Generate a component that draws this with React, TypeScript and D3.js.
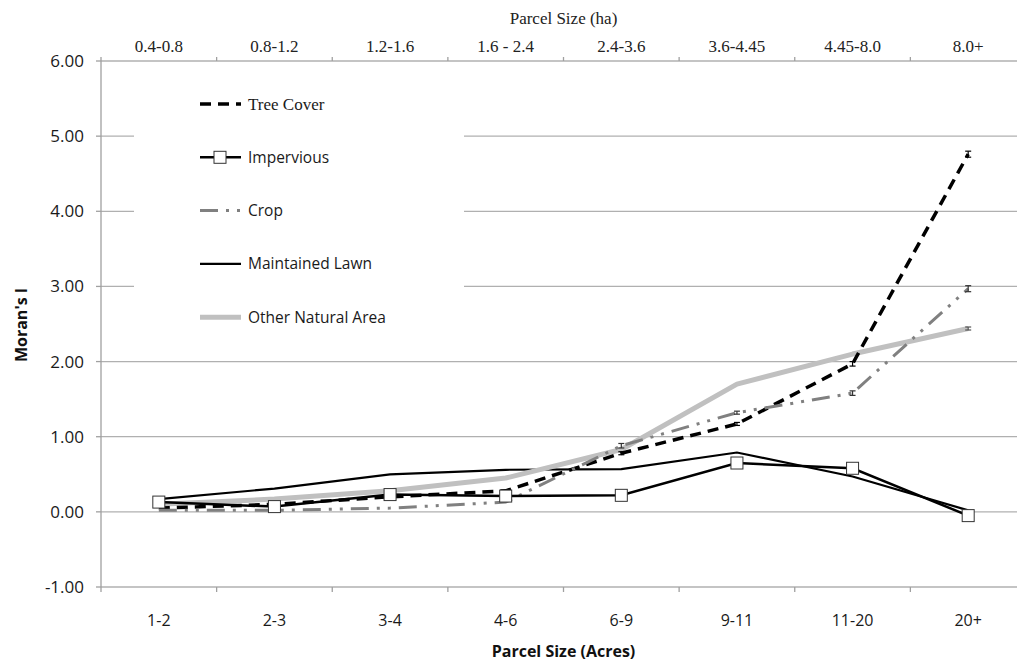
import React from "react";
import * as d3 from "d3";

const acreCategories = ["1-2", "2-3", "3-4", "4-6", "6-9", "9-11", "11-20", "20+"];
const haCategories = ["0.4-0.8", "0.8-1.2", "1.2-1.6", "1.6 - 2.4", "2.4-3.6", "3.6-4.45", "4.45-8.0", "8.0+"];
const yTicks = [-1, 0, 1, 2, 3, 4, 5, 6];

const treeCover = [0.05, 0.1, 0.2, 0.28, 0.78, 1.17, 1.97, 4.76];
const treeCoverErr = [0, 0, 0, 0, 0.02, 0.02, 0.03, 0.04];
const impervious = [0.13, 0.07, 0.23, 0.21, 0.22, 0.65, 0.58, -0.05];
const crop = [0.02, 0.02, 0.05, 0.13, 0.88, 1.32, 1.58, 2.97];
const cropErr = [0, 0, 0, 0, 0.03, 0.02, 0.03, 0.04];
const maintainedLawn = [0.17, 0.31, 0.5, 0.56, 0.57, 0.79, 0.47, 0.02];
const otherNatural = [0.1, 0.17, 0.28, 0.45, 0.83, 1.7, 2.1, 2.44];
const otherNaturalErr = [0, 0, 0, 0, 0, 0, 0, 0.02];

const W = 1017;
const H = 664;
const plotLeft = 101;
const plotRight = 1026;
const plotTop = 61;
const plotBottom = 587;

const sans = "'Open Sans', 'Noto Sans', sans-serif";
const serif = "'Liberation Serif', 'DejaVu Serif', serif";

export default function App() {
  const x = d3.scaleBand<string>().domain(acreCategories).range([plotLeft, plotRight]);
  const xTop = d3.scaleBand<string>().domain(haCategories).range([plotLeft, plotRight]);
  const y = d3.scaleLinear().domain([-1, 6]).range([plotBottom, plotTop]);
  const cx = (i: number) => (x(acreCategories[i]) as number) + x.bandwidth() / 2;

  const line = d3
    .line<number>()
    .x((_, i) => cx(i))
    .y((d) => y(d));

  const errBars = (vals: number[], errs: number[], color: string) =>
    vals.map((v, i) =>
      errs[i] > 0 ? (
        <g key={i} stroke={color} strokeWidth={1.2}>
          <line x1={cx(i)} x2={cx(i)} y1={y(v + errs[i])} y2={y(v - errs[i])} />
          <line x1={cx(i) - 3} x2={cx(i) + 3} y1={y(v + errs[i])} y2={y(v + errs[i])} />
          <line x1={cx(i) - 3} x2={cx(i) + 3} y1={y(v - errs[i])} y2={y(v - errs[i])} />
        </g>
      ) : null
    );

  const boundaries = d3.range(acreCategories.length + 1).map((i) => plotLeft + i * x.step());

  const treeDash = "11,7";
  const cropDash = "18,8,3,8,3,8";

  const legendItems = [
    { label: "Tree Cover", color: "#000", width: 3.5, dash: treeDash, marker: false, font: serif, size: 17 },
    { label: "Impervious", color: "#000", width: 2.5, dash: "", marker: true, font: sans, size: 15.5 },
    { label: "Crop", color: "#808080", width: 3, dash: cropDash, marker: false, font: sans, size: 15.5 },
    { label: "Maintained Lawn", color: "#000", width: 2.2, dash: "", marker: false, font: sans, size: 15.5 },
    { label: "Other Natural Area", color: "#c0c0c0", width: 5, dash: "", marker: false, font: sans, size: 15.5 },
  ];

  return (
    <svg
      width={W}
      height={H}
      style={{ position: "absolute", left: 0, top: 0, background: "#fff" }}
      xmlns="http://www.w3.org/2000/svg"
    >
      <rect x={0} y={0} width={W} height={H} fill="#fff" />
      {/* gridlines */}
      {yTicks.map((t) => (
        <line key={t} x1={plotLeft} x2={W} y1={y(t)} y2={y(t)} stroke="#b0b0b0" strokeWidth={1.3} />
      ))}
      {/* y axis */}
      <line x1={plotLeft} x2={plotLeft} y1={plotTop} y2={plotBottom} stroke="#a0a0a0" strokeWidth={1.3} />
      {yTicks.map((t) => (
        <g key={t}>
          <line x1={plotLeft - 5} x2={plotLeft} y1={y(t)} y2={y(t)} stroke="#a0a0a0" strokeWidth={1.3} />
          <text x={84} y={y(t)} dy="0.35em" textAnchor="end" fontFamily={sans} fontSize={17} fill="#1a1a1a">
            {t.toFixed(2)}
          </text>
        </g>
      ))}
      {/* bottom axis ticks */}
      {boundaries.map((b, i) => (
        <line key={"b" + i} x1={b} x2={b} y1={plotBottom} y2={plotBottom + 5} stroke="#a0a0a0" strokeWidth={1.3} />
      ))}
      {acreCategories.map((c) => (
        <text
          key={c}
          x={(x(c) as number) + x.bandwidth() / 2}
          y={620}
          dy="0.35em"
          textAnchor="middle"
          fontFamily={sans}
          fontSize={16}
          fill="#1a1a1a"
        >
          {c}
        </text>
      ))}
      <text x={(plotLeft + plotRight) / 2} y={651} dy="0.35em" textAnchor="middle" fontFamily={sans} fontSize={16} fontWeight="bold" fill="#111">
        Parcel Size (Acres)
      </text>
      {/* top axis ticks */}
      {boundaries.map((b, i) => (
        <line key={"t" + i} x1={b} x2={b} y1={plotTop - 4} y2={plotTop} stroke="#a0a0a0" strokeWidth={1.3} />
      ))}
      {haCategories.map((c) => (
        <text
          key={c}
          x={(xTop(c) as number) + xTop.bandwidth() / 2}
          y={46}
          dy="0.35em"
          textAnchor="middle"
          fontFamily={serif}
          fontSize={17}
          fill="#222"
        >
          {c}
        </text>
      ))}
      <text x={(plotLeft + plotRight) / 2} y={18} dy="0.35em" textAnchor="middle" fontFamily={serif} fontSize={17} fill="#222">
        Parcel Size (ha)
      </text>
      {/* y title */}
      <text
        transform={`translate(21, 325) rotate(-90)`}
        textAnchor="middle"
        dy="0.35em"
        fontFamily={sans}
        fontSize={16}
        fontWeight="bold"
        fill="#111"
      >
        Moran's I
      </text>

      {/* legend box */}
      <rect x={134} y={70} width={330} height={272} fill="#fff" />
      {legendItems.map((it, i) => {
        const ly = 104 + i * 53.3;
        return (
          <g key={it.label}>
            <line
              x1={200}
              x2={241}
              y1={ly}
              y2={ly}
              stroke={it.color}
              strokeWidth={it.width}
              strokeDasharray={it.dash || undefined}
            />
            {it.marker && <rect x={214} y={ly - 6} width={12} height={12} fill="#fff" stroke="#333" strokeWidth={1} />}
            <text x={248} y={ly} dy="0.35em" fontFamily={it.font} fontSize={it.size} fill="#1a1a1a">
              {it.label}
            </text>
          </g>
        );
      })}

      {/* series */}
      <path d={line(maintainedLawn) || ""} fill="none" stroke="#000" strokeWidth={2.2} />
      <path d={line(otherNatural) || ""} fill="none" stroke="#c0c0c0" strokeWidth={5} strokeLinejoin="round" />
      {errBars(otherNatural, otherNaturalErr, "#555")}
      <path d={line(treeCover) || ""} fill="none" stroke="#000" strokeWidth={3.5} strokeDasharray={treeDash} />
      {errBars(treeCover, treeCoverErr, "#000")}
      <path d={line(crop) || ""} fill="none" stroke="#808080" strokeWidth={3} strokeDasharray={cropDash} />
      {errBars(crop, cropErr, "#333")}
      <path d={line(impervious) || ""} fill="none" stroke="#000" strokeWidth={2.5} />
      {impervious.map((v, i) => (
        <rect key={i} x={cx(i) - 6} y={y(v) - 6} width={12} height={12} fill="#fff" stroke="#333" strokeWidth={1} />
      ))}
    </svg>
  );
}
